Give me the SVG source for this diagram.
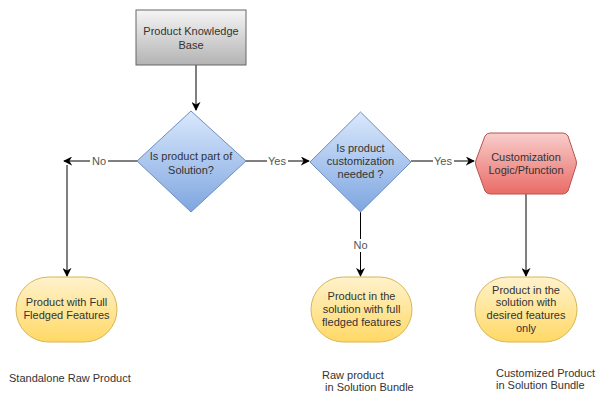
<svg xmlns="http://www.w3.org/2000/svg" width="596" height="394" viewBox="0 0 596 394">
<defs>
<linearGradient id="gGray" x1="0" y1="0" x2="0" y2="1"><stop offset="0" stop-color="#f5f5f5"/><stop offset="1" stop-color="#b3b3b3"/></linearGradient>
<linearGradient id="gBlue" x1="0" y1="0" x2="0" y2="1"><stop offset="0" stop-color="#dae8fc"/><stop offset="1" stop-color="#7ea6e0"/></linearGradient>
<linearGradient id="gRed" x1="0" y1="0" x2="0" y2="1"><stop offset="0" stop-color="#f8cecc"/><stop offset="1" stop-color="#ea6b66"/></linearGradient>
<linearGradient id="gYel" x1="0" y1="0" x2="0" y2="1"><stop offset="0" stop-color="#fff2cc"/><stop offset="1" stop-color="#ffd966"/></linearGradient>
<marker id="arr" viewBox="0 0 10 10" refX="9" refY="5" markerWidth="9" markerHeight="9" orient="auto" markerUnits="userSpaceOnUse"><path d="M0,0 L10,5 L0,10 L3,5 Z" fill="#000"/></marker>
</defs>
<style>
text{font-family:"Liberation Sans",Arial,Helvetica,sans-serif;font-size:11px;fill:#333;text-anchor:middle}
.l{text-anchor:start}
.c{fill:none;stroke:#000;stroke-width:1}
.lab{fill:#fff}
.lt{fill:#555}
</style>
<rect width="596" height="394" fill="#fff"/>
<g id="connectors">
<line class="c" x1="196" y1="65" x2="196" y2="110" marker-end="url(#arr)"/>
<line class="c" x1="137" y1="161" x2="64" y2="161" marker-end="url(#arr)"/>
<rect class="lab" x="90" y="154" width="18" height="13"/>
<text class="lt" x="99" y="165">No</text>
<line class="c" x1="67" y1="165" x2="67" y2="276" marker-end="url(#arr)"/>
<line class="c" x1="246" y1="161" x2="309" y2="161" marker-end="url(#arr)"/>
<rect class="lab" x="267" y="154" width="21" height="13"/>
<text class="lt" x="277" y="165">Yes</text>
<line class="c" x1="411" y1="161" x2="474" y2="161" marker-end="url(#arr)"/>
<rect class="lab" x="433" y="154" width="21" height="13"/>
<text class="lt" x="443" y="165">Yes</text>
<line class="c" x1="360.5" y1="212" x2="360.5" y2="276" marker-end="url(#arr)"/>
<rect class="lab" x="352" y="239" width="18" height="13"/>
<text class="lt" x="360.5" y="249">No</text>
<line class="c" x1="526" y1="194" x2="526" y2="276" marker-end="url(#arr)"/>
</g>
<g id="kb">
<rect x="136" y="10" width="110" height="55" fill="url(#gGray)" stroke="#666"/>
<text x="191" y="35">Product Knowledge</text>
<text x="191" y="49">Base</text>
</g>
<g id="d1">
<polygon points="191,111 246,161 191,212 137,161" fill="url(#gBlue)" stroke="#6c8ebf"/>
<text x="191" y="160">Is product part of</text>
<text x="191" y="174">Solution?</text>
</g>
<g id="d2">
<polygon points="360.5,112 411,162 360.5,212 310,162" fill="url(#gBlue)" stroke="#6c8ebf"/>
<text x="360.5" y="152">Is product</text>
<text x="360.5" y="165">customization</text>
<text x="360.5" y="178">needed ?</text>
</g>
<g id="hex">
<path d="M490,133 L563,133 Q566,133 568,136 L576,160 Q577,163 576,166 L568,191 Q566,194 563,194 L490,194 Q487,194 485,191 L476,166 Q475,163 476,160 L485,136 Q487,133 490,133 Z" fill="url(#gRed)" stroke="#b85450"/>
<text x="526" y="161">Customization</text>
<text x="526" y="174">Logic/Pfunction</text>
</g>
<g id="t1">
<rect x="16" y="277" width="101" height="65" rx="32.5" ry="32.5" fill="url(#gYel)" stroke="#d6b656"/>
<text x="66.5" y="306">Product with Full</text>
<text x="66.5" y="319">Fledged Features</text>
</g>
<g id="t2">
<rect x="311" y="277" width="101" height="65" rx="32.5" ry="32.5" fill="url(#gYel)" stroke="#d6b656"/>
<text x="361.5" y="300">Product in the</text>
<text x="361.5" y="313">solution with full</text>
<text x="361.5" y="326">fledged features</text>
</g>
<g id="t3">
<rect x="475" y="277" width="102" height="65" rx="32.5" ry="32.5" fill="url(#gYel)" stroke="#d6b656"/>
<text x="526" y="294">Product in the</text>
<text x="526" y="306">solution with</text>
<text x="526" y="319">desired features</text>
<text x="526" y="332">only</text>
</g>
<g id="labels">
<text class="l" x="9" y="382">Standalone Raw Product</text>
<text class="l" x="322" y="379">Raw product</text>
<text class="l" x="322" y="391" xml:space="preserve"> in Solution Bundle</text>
<text class="l" x="496" y="377">Customized Product</text>
<text class="l" x="496" y="389">in Solution Bundle</text>
</g>
</svg>
